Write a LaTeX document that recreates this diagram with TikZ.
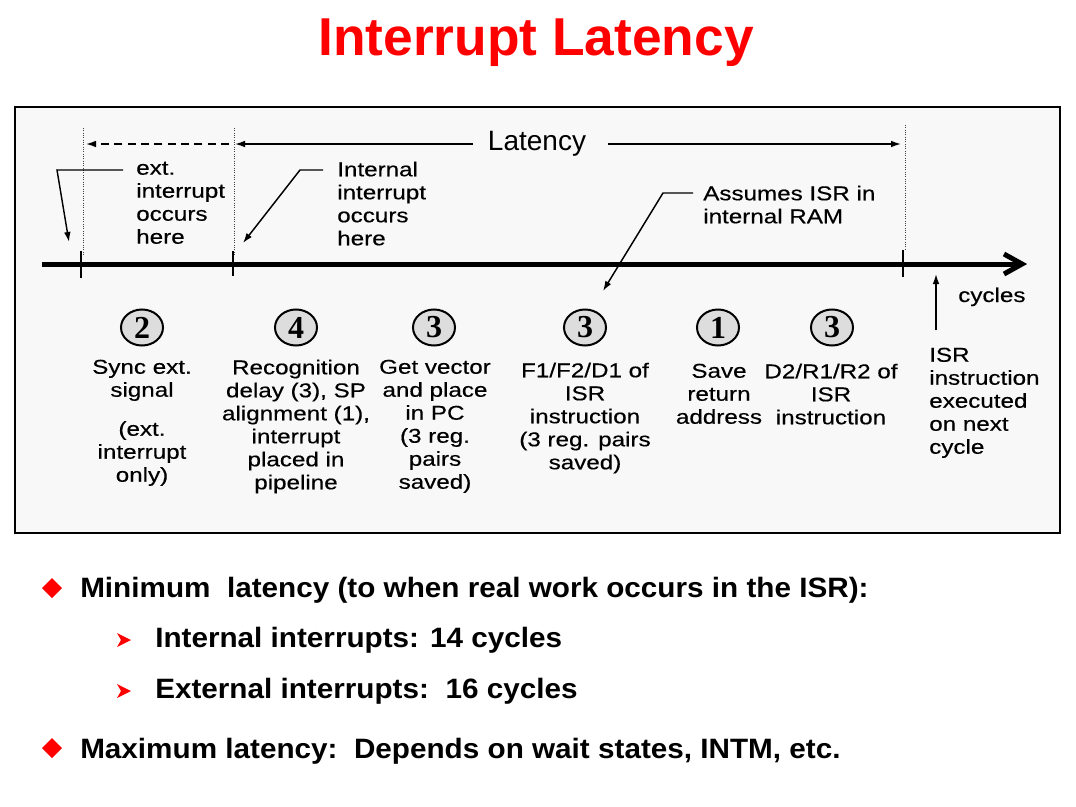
\documentclass[tikz,border=0pt]{standalone}
\usepackage{fontspec}
\setmainfont{Liberation Sans}
\newfontfamily\labfont[FakeStretch=1.21,FakeBold=0.4]{Liberation Sans}
\newfontfamily\bulfont[FakeStretch=1.06]{Liberation Sans}
\newfontfamily\numfont{Liberation Serif}
\usetikzlibrary{arrows.meta,shapes.geometric}
\definecolor{titlered}{RGB}{255,0,0}
\definecolor{panel}{RGB}{248,248,248}
\definecolor{circfill}{RGB}{221,221,221}
\tikzset{
  lab/.style={font=\labfont\fontsize{15}{17.25}\selectfont, inner sep=0pt, align=center},
  labl/.style={lab, align=left},
  cnum/.style={ellipse, draw, line width=1.5pt, fill=circfill, minimum width=31.5pt, minimum height=27pt, inner sep=0pt, font=\numfont\bfseries\fontsize{24}{24}\selectfont},
  arr/.style={line width=1.1pt, -{Latex[length=7.5pt,width=5pt]}},
  dotline/.style={line width=0.75pt, dash pattern=on 0.75pt off 1pt, black!75},
  tickmark/.style={line width=1.5pt},
  bul/.style={font=\bulfont\bfseries\fontsize{21}{25}\selectfont, inner sep=0pt, anchor=base west},
}
\begin{document}
\begin{tikzpicture}[x=0.75pt,y=-0.75pt]
\useasboundingbox (0,0) rectangle (1076,807);
\fill[white] (0,0) rectangle (1076,807);
% title
\node[anchor=base, inner sep=0pt, text=titlered, font=\bfseries\fontsize{40}{40}\selectfont] (title) at (536,55) {Interrupt Latency};
% panel
\draw[line width=1.5pt, fill=panel] (15,107) rectangle (1060,533);
% dotted markers
\coordinate (d1a) at (83,128); \coordinate (d1b) at (83,255);
\coordinate (d2a) at (234,128); \coordinate (d2b) at (234,255);
\coordinate (d3a) at (905,125); \coordinate (d3b) at (905,250);
\draw[dotline] (d1a) -- (d1b);
\draw[dotline] (d2a) -- (d2b);
\draw[dotline] (d3a) -- (d3b);
% latency
\node[anchor=base, inner sep=0pt, font=\fontsize{21}{21}\selectfont] (lat) at (537,150) {Latency};
\coordinate (la0) at (473,144); \coordinate (la1) at (235,144);
\coordinate (lb0) at (608,144); \coordinate (lb1) at (901,144);
\coordinate (lc0) at (229,144); \coordinate (lc1) at (86,144);
\draw[arr] (la0) -- (la1);
\draw[arr] (lb0) -- (lb1);
\draw[arr, dash pattern=on 6pt off 4pt] (lc0) -- (lc1);
% timeline
\coordinate (t0) at (42,264); \coordinate (t1) at (1020,264);
\draw[line width=3.75pt] (t0) -- (t1);
\draw[line width=3.75pt, line join=miter] (1004,254) -- (1022,264) -- (1004,274);
\draw[tickmark] (81,251) -- (81,278);
\draw[tickmark] (233,251) -- (233,276);
\draw[tickmark] (903,250) -- (903,277);
% annotations
\node[labl, anchor=north west] (ext) at (136,161.5) {ext.\\interrupt\\occurs\\here};
\node[labl, anchor=north west] (int) at (337,161.5) {Internal\\interrupt\\occurs\\here};
\node[labl, anchor=north west] (ram) at (703,185.5) {Assumes ISR in\\internal RAM};
\coordinate (e0) at (123,170); \coordinate (e1) at (57,170); \coordinate (e2) at (69,242);
\coordinate (i0) at (323,170); \coordinate (i1) at (300,170); \coordinate (i2) at (243,243);
\coordinate (r0) at (693,193); \coordinate (r1) at (663,193); \coordinate (r2) at (603,291);
\draw[arr] (e0) -- (e1) -- (e2);
\draw[arr] (i0) -- (i1) -- (i2);
\draw[arr] (r0) -- (r1) -- (r2);
% cycles
\node[labl, anchor=base west] (cyc) at (958,302) {cycles};
\coordinate (u0) at (936,330); \coordinate (u1) at (936,274);
\draw[arr] (u0) -- (u1);
% circles
\node[cnum] (c1) at (142,327.5) {2};
\node[cnum] (c2) at (296,327.5) {4};
\node[cnum] (c3) at (434,327.5) {3};
\node[cnum] (c4) at (585,327.5) {3};
\node[cnum] (c5) at (718,327.5) {1};
\node[cnum] (c6) at (832,327.5) {3};
% step labels
\node[lab, anchor=north] (s1) at (142,359.5) {Sync ext.\\signal\\[12pt](ext.\\interrupt\\only)};
\node[lab, anchor=north] (s2) at (296,359.5) {Recognition\\delay (3), SP\\alignment (1),\\interrupt\\placed in\\pipeline};
\node[lab, anchor=north] (s3) at (435,359.5) {Get vector\\and place\\in PC\\(3 reg.\\pairs\\saved)};
\node[lab, anchor=north] (s4) at (585,362.5) {F1/F2/D1 of\\ISR\\instruction\\(3 reg. pairs\\saved)};
\node[lab, anchor=north] (s5) at (719,363.5) {Save\\return\\address};
\node[lab, anchor=north] (s6) at (831,363.5) {D2/R1/R2 of\\ISR\\instruction};
\node[labl, anchor=north west] (s7) at (929,347.5) {ISR\\instruction\\executed\\on next\\cycle};
% bullets
\fill[titlered] (52,578) -- (62,588) -- (52,598) -- (42,588) -- cycle;
\fill[titlered] (117,633) -- (131,640) -- (117,647) -- (121,640) -- cycle;
\fill[titlered] (117,684) -- (131,691) -- (117,698) -- (121,691) -- cycle;
\fill[titlered] (52,738) -- (62,748) -- (52,758) -- (42,748) -- cycle;
\node[bul] (b1) at (80,597) {Minimum\ \ latency (to when real work occurs in the ISR):};
\node[bul] (b2) at (155,647) {Internal interrupts: 14 cycles};
\node[bul] (b3) at (155,698) {External interrupts:\ \ 16 cycles};
\node[bul] (b4) at (80,758) {Maximum latency:\ \ Depends on wait states, INTM, etc.};
\end{tikzpicture}
\end{document}
